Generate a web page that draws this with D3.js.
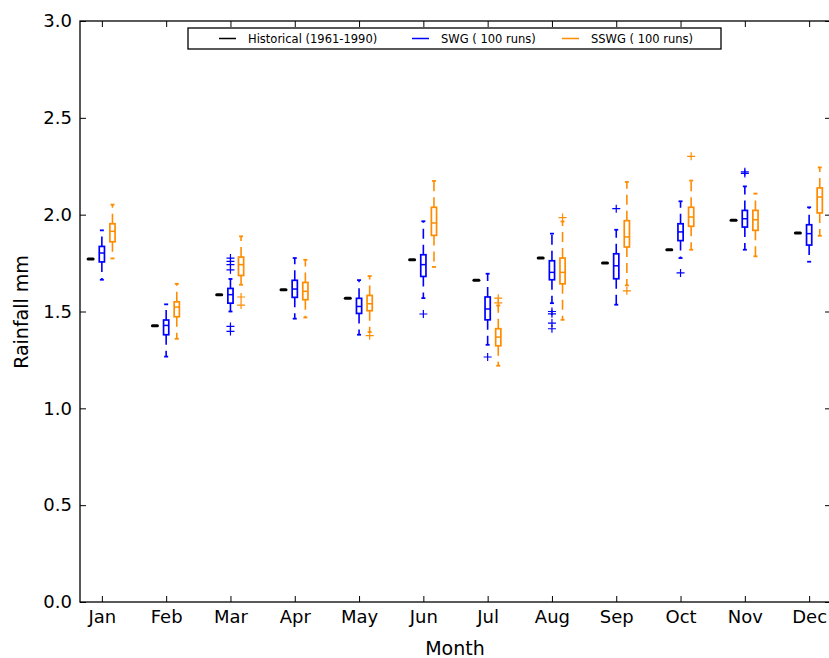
<!DOCTYPE html>
<html>
<head>
<meta charset="utf-8">
<script src="https://cdn.jsdelivr.net/npm/d3@7"></script>
<style>
    body { margin: 0; background: #fff; }
    text { font-family: "DejaVu Sans", sans-serif; fill: #000; }
    .tick line { stroke: #000; stroke-width: 1; }
</style>
</head>
<body>
<div id="chart"></div>
<script>
// months on the x axis
var months = ["Jan", "Feb", "Mar", "Apr", "May", "Jun", "Jul", "Aug", "Sep", "Oct", "Nov", "Dec"];
var yTicks = [0.0, 0.5, 1.0, 1.5, 2.0, 2.5, 3.0];

// observed mean, 1961-1990
var historical = [1.771, 1.426, 1.587, 1.612, 1.568, 1.767, 1.662, 1.776, 1.750, 1.819, 1.971, 1.905];

// SWG box stats per month: [whisker low, q1, median, q3, whisker high]
var swgStats = [
    [1.664, 1.756, 1.802, 1.836, 1.919],
    [1.267, 1.380, 1.428, 1.456, 1.537],
    [1.500, 1.543, 1.587, 1.619, 1.668],
    [1.463, 1.573, 1.616, 1.661, 1.776],
    [1.380, 1.490, 1.526, 1.568, 1.662],
    [1.569, 1.681, 1.742, 1.793, 1.966],
    [1.328, 1.457, 1.513, 1.575, 1.695],
    [1.543, 1.664, 1.702, 1.762, 1.902],
    [1.535, 1.669, 1.736, 1.798, 1.922],
    [1.776, 1.866, 1.911, 1.953, 2.069],
    [1.819, 1.936, 1.979, 2.022, 2.146],
    [1.757, 1.843, 1.902, 1.948, 2.038]
];
var swgFliers = [
    [], [], [1.715, 1.742, 1.759, 1.776, 1.423, 1.397], [], [], [1.487],
    [1.265], [1.500, 1.488, 1.440, 1.411], [2.031], [1.699], [2.221, 2.213], []
];

// SSWG box stats per month
var sswgStats = [
    [1.774, 1.860, 1.914, 1.953, 2.052],
    [1.359, 1.473, 1.523, 1.550, 1.643],
    [1.638, 1.686, 1.742, 1.781, 1.888],
    [1.469, 1.561, 1.604, 1.650, 1.767],
    [1.394, 1.504, 1.540, 1.583, 1.683],
    [1.730, 1.893, 1.957, 2.038, 2.174],
    [1.220, 1.323, 1.368, 1.411, 1.531],
    [1.457, 1.643, 1.702, 1.776, 1.965],
    [1.635, 1.833, 1.885, 1.969, 2.169],
    [1.819, 1.940, 1.988, 2.038, 2.176],
    [1.785, 1.919, 1.974, 2.022, 2.109],
    [1.891, 2.009, 2.091, 2.138, 2.244]
];
var sswgFliers = [
    [], [], [1.575, 1.533], [], [1.375], [],
    [1.569, 1.545], [1.985], [1.607], [2.301], [], []
];

var blue = "#0000ff";
var orange = "#ff8c00";

var width = 829, height = 658;
var margin = {left: 80, top: 21, bottom: 602, right: 831};

var svg = d3.select("#chart").append("svg")
    .attr("width", width)
    .attr("height", height);

var x = d3.scaleLinear()
    .domain([0.66, 12.34])
    .range([margin.left, margin.right]);

var y = d3.scaleLinear()
    .domain([0, 3])
    .range([margin.bottom, margin.top]);

// axes, ticks pointing inward like matplotlib classic
var xAxis = d3.axisBottom(x)
    .tickValues(d3.range(1, 13))
    .tickFormat(function(d){ return months[d - 1]; })
    .tickSizeInner(-6).tickSizeOuter(0).tickPadding(8);

var yAxis = d3.axisLeft(y)
    .tickValues(yTicks)
    .tickFormat(d3.format(".1f"))
    .tickSizeInner(-6).tickSizeOuter(0).tickPadding(8);

var gx = svg.append("g")
    .attr("class", "x axis")
    .attr("transform", "translate(0," + margin.bottom + ")")
    .call(xAxis);
gx.selectAll("text").style("font-size", "18px");

var gy = svg.append("g")
    .attr("class", "y axis")
    .attr("transform", "translate(" + margin.left + ",0)")
    .call(yAxis);
gy.selectAll("text").style("font-size", "18px");

// top and right ticks, no labels
svg.append("g")
    .attr("transform", "translate(0," + margin.top + ")")
    .call(d3.axisTop(x).tickValues(d3.range(1, 13)).tickFormat("").tickSizeInner(-6).tickSizeOuter(0));
svg.append("g")
    .attr("transform", "translate(" + margin.right + ",0)")
    .call(d3.axisRight(y).tickValues(yTicks).tickFormat("").tickSizeInner(-6).tickSizeOuter(0));

svg.selectAll(".domain").remove();

// frame
svg.append("rect")
    .attr("x", margin.left)
    .attr("y", margin.top)
    .attr("width", margin.right - margin.left)
    .attr("height", margin.bottom - margin.top)
    .attr("fill", "none")
    .attr("stroke", "#000")
    .attr("stroke-width", 1.3);

// draw one set of boxplots
function drawBoxes(stats, fliers, offset, color, cls) {
    var g = svg.append("g").attr("class", cls);
    var hw = 2.6, cw = 2;

    stats.forEach(function(s, i){
        var cx = x(i + 1 + offset);
        var b = g.append("g");

        // dashed whiskers
        b.append("line")
            .attr("x1", cx).attr("x2", cx)
            .attr("y1", y(s[3])).attr("y2", y(s[4]))
            .attr("stroke", color).attr("stroke-width", 1.6)
            .attr("stroke-dasharray", "10,6");
        b.append("line")
            .attr("x1", cx).attr("x2", cx)
            .attr("y1", y(s[1])).attr("y2", y(s[0]))
            .attr("stroke", color).attr("stroke-width", 1.6)
            .attr("stroke-dasharray", "10,6");

        // caps
        [s[0], s[4]].forEach(function(v){
            b.append("line")
                .attr("x1", cx - cw).attr("x2", cx + cw)
                .attr("y1", y(v)).attr("y2", y(v))
                .attr("stroke", color).attr("stroke-width", 1.8);
        });

        // box
        b.append("rect")
            .attr("x", cx - hw)
            .attr("y", y(s[3]))
            .attr("width", hw * 2)
            .attr("height", y(s[1]) - y(s[3]))
            .attr("fill", "none")
            .attr("stroke", color).attr("stroke-width", 1.7);

        // median
        b.append("line")
            .attr("x1", cx - hw).attr("x2", cx + hw)
            .attr("y1", y(s[2])).attr("y2", y(s[2]))
            .attr("stroke", color).attr("stroke-width", 1.5);

        // fliers as +
        fliers[i].forEach(function(v){
            b.append("path")
                .attr("d", "M" + (cx - 4) + "," + y(v) + "H" + (cx + 4) +
                           "M" + cx + "," + (y(v) - 4) + "V" + (y(v) + 4))
                .attr("stroke", color).attr("stroke-width", 1.2)
                .attr("fill", "none");
        });
    });
}

// historical: single value drawn as a short thick dash
svg.append("g").attr("class", "hist")
    .selectAll("line")
    .data(historical)
    .enter().append("line")
    .attr("x1", function(d, i){ return x(i + 1 - 0.175) - 2.5; })
    .attr("x2", function(d, i){ return x(i + 1 - 0.175) + 2.5; })
    .attr("y1", function(d){ return y(d); })
    .attr("y2", function(d){ return y(d); })
    .attr("stroke", "#000")
    .attr("stroke-width", 3)
    .attr("stroke-linecap", "round");

drawBoxes(swgStats, swgFliers, 0, blue, "swg");
drawBoxes(sswgStats, sswgFliers, 0.165, orange, "sswg");

// axis titles
svg.append("text")
    .attr("x", 455)
    .attr("y", 655)
    .attr("text-anchor", "middle")
    .style("font-size", "19px")
    .text("Month");

svg.append("text")
    .attr("transform", "translate(28,312) rotate(-90)")
    .attr("text-anchor", "middle")
    .style("font-size", "19px")
    .text("Rainfall mm");

// legend
var legend = svg.append("g").attr("class", "legend");
legend.append("rect")
    .attr("x", 188).attr("y", 28)
    .attr("width", 533).attr("height", 21)
    .attr("fill", "#fff")
    .attr("stroke", "#000")
    .attr("stroke-width", 1.3);

var legendItems = [
    {label: "Historical (1961-1990)", color: "#000", x: 219},
    {label: "SWG ( 100 runs)", color: blue, x: 412},
    {label: "SSWG ( 100 runs)", color: orange, x: 562}
];
legendItems.forEach(function(d){
    legend.append("line")
        .attr("x1", d.x).attr("x2", d.x + 17)
        .attr("y1", 38.5).attr("y2", 38.5)
        .attr("stroke", d.color).attr("stroke-width", 1.5);
    legend.append("text")
        .attr("x", d.x + 29)
        .attr("y", 42.5)
        .style("font-size", "11.5px")
        .text(d.label);
});
</script>
</body>
</html>
